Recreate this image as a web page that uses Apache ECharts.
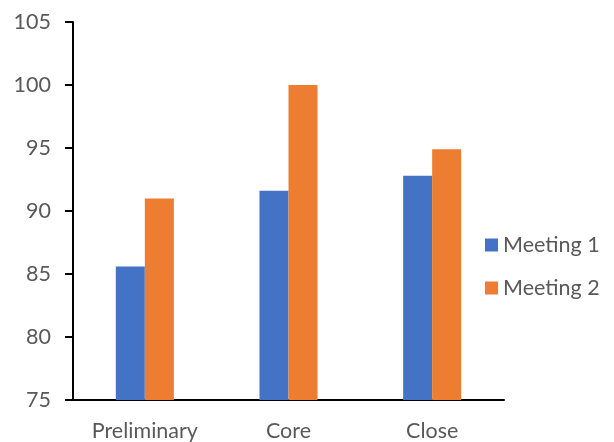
<!DOCTYPE html>
<html><head><meta charset="utf-8">
<script src="https://cdn.jsdelivr.net/npm/echarts@6/dist/echarts.min.js"></script>
<style>html,body{margin:0;padding:0;background:#fff}#c{width:614px;height:442px}</style>
</head><body><div id="c"></div>
<script>
const categories = ["Preliminary", "Core", "Close"];
const meeting1 = [85.6, 91.6, 92.8];
const meeting2 = [91.0, 100.0, 94.9];
const seriesNames = ["Meeting 1", "Meeting 2"];
const yMin = 75, yMax = 105, yStep = 5;

const font = "Lato, 'Open Sans', sans-serif";
const chart = echarts.init(document.getElementById('c'), null, {renderer: 'canvas'});
chart.setOption({
  animation: false,
  grid: {left: 73, right: 110, top: 22, bottom: 41, containLabel: false},
  legend: {
    orient: 'vertical', left: 480, top: 229,
    itemWidth: 13, itemHeight: 13, itemGap: 21,
    icon: 'rect',
    textStyle: {fontFamily: font, fontSize: 21.5, color: '#595959', padding: [0,0,0,0]},
    data: seriesNames
  },
  xAxis: {
    type: 'category', data: categories,
    axisLine: {lineStyle: {color: '#000', width: 2}},
    axisTick: {show: false},
    axisLabel: {fontFamily: font, fontSize: 21.5, color: '#595959', margin: 20}
  },
  yAxis: {
    type: 'value', min: yMin, max: yMax, interval: yStep,
    splitLine: {show: false},
    axisLine: {show: true, lineStyle: {color: '#000', width: 2}},
    axisTick: {show: true, length: 8, lineStyle: {color: '#000', width: 2}},
    axisLabel: {fontFamily: font, fontSize: 21.5, color: '#595959', margin: 22}
  },
  series: [
    {name: seriesNames[0], type: 'bar', data: meeting1, barGap: '0%', barCategoryGap: '59.6%',
     itemStyle: {color: '#4472C4'}},
    {name: seriesNames[1], type: 'bar', data: meeting2, barGap: '0%', barCategoryGap: '59.6%',
     itemStyle: {color: '#ED7D31'}}
  ]
});
</script></body></html>
